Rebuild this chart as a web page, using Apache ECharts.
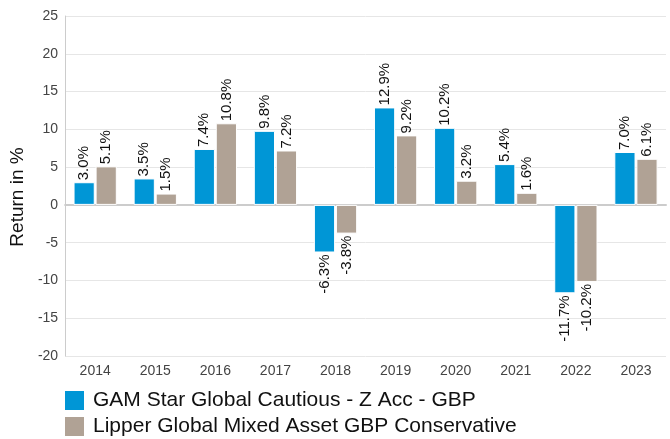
<!DOCTYPE html>
<html><head><meta charset="utf-8">
<script src="https://cdn.jsdelivr.net/npm/echarts@6/dist/echarts.min.js"></script>
<style>html,body{margin:0;padding:0;background:#fff}#c{width:670px;height:439px}</style>
</head><body><div id="c"></div>
<script>
const years = ['2014','2015','2016','2017','2018','2019','2020','2021','2022','2023'];
const fundName = 'GAM Star Global Cautious - Z Acc - GBP';
const peerName = 'Lipper Global Mixed Asset GBP Conservative';
const fundValues = [3.0, 3.5, 7.4, 9.8, -6.3, 12.9, 10.2, 5.4, -11.7, 7.0];
const peerValues = [5.1, 1.5, 10.8, 7.2, -3.8, 9.2, 3.2, 1.6, -10.2, 6.1];

function mk(vals){
  return vals.map(v => ({
    value: v,
    label: v >= 0
      ? {position:'top', align:'left', verticalAlign:'middle', rotate:90, distance:2}
      : {position:'bottom', align:'right', verticalAlign:'middle', rotate:90, distance:2}
  }));
}
const labelBase = {show:true, fontSize:15, color:'#111', fontFamily:'Liberation Sans, Arial, sans-serif',
  formatter: p => p.value.toFixed(1) + '%'};
const legendBase = {orient:'horizontal', left:58, itemWidth:21, itemHeight:21,
    icon:'rect', textStyle:{fontSize:21, color:'#111', padding:[0,0,0,3]}};

const chart = echarts.init(document.getElementById('c'));
chart.setOption({
  animation:false,
  textStyle:{fontFamily:'Liberation Sans, Arial, sans-serif'},
  grid:{left:64, right:4, top:16, bottom:83},
  legend:[
    Object.assign({top:384, data:[fundName]}, legendBase),
    Object.assign({top:410, data:[peerName]}, legendBase)
  ],
  xAxis:{type:'category', data:years,
    axisLine:{lineStyle:{color:'#ccc', width:2}}, axisTick:{show:false},
    axisLabel:{fontSize:14, color:'#444', margin:8}},
  yAxis:{type:'value', min:-20, max:25, interval:5,
    name:'Return in %', nameLocation:'middle', nameGap:36, nameRotate:90,
    nameTextStyle:{fontSize:19, color:'#111', padding:[0,22,0,0]},
    axisLine:{show:true, lineStyle:{color:'#ccc'}}, axisTick:{show:false},
    axisLabel:{fontSize:14, color:'#444', margin:7},
    splitLine:{lineStyle:{color:'#e6e6e6'}}},
  series:[
    {name:fundName, type:'bar', data:mk(fundValues), barGap:'4%', barCategoryGap:'28%',
     itemStyle:{color:'#0096d6', borderColor:'#fff', borderWidth:1}, label:labelBase},
    {name:peerName, type:'bar', data:mk(peerValues),
     itemStyle:{color:'#b0a295', borderColor:'#fff', borderWidth:1}, label:labelBase}
  ]
});
</script></body></html>
